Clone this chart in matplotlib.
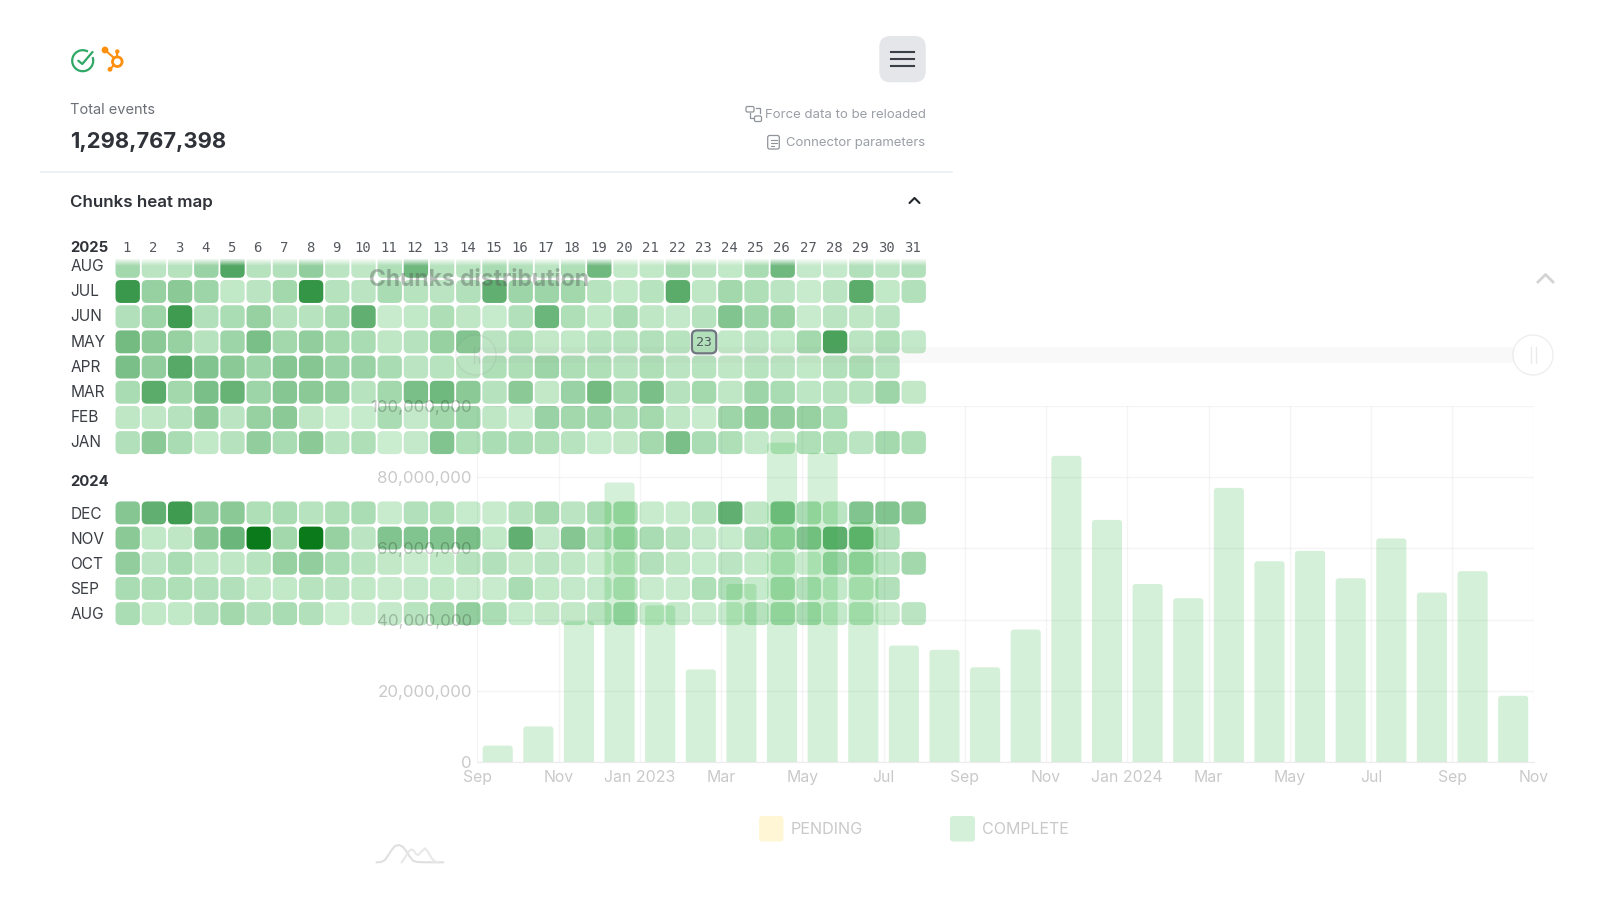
import matplotlib
matplotlib.use('Agg')
import matplotlib.pyplot as plt
import numpy as np
from matplotlib.colors import LinearSegmentedColormap
from matplotlib.patches import Arc, Circle, Ellipse, FancyBboxPatch, Rectangle
from matplotlib.ticker import FuncFormatter

plt.rcParams['font.family'] = ['Inter', 'DejaVu Sans']

# Heat map values, day 1 to 31 (rough level 0-100)
AUG_2025 = [28, 15, 18, 32, 68, 18, 20, 35, 15, 13, 22, 50, 18, 17, 25, 20, 15, 22, 50, 12, 12, 25, 15, 12, 25, 50, 10, 10, 20, 15, 20]
JUL_2025 = [80, 33, 38, 30, 12, 15, 28, 82, 18, 15, 25, 17, 15, 20, 58, 30, 30, 28, 17, 12, 17, 62, 13, 28, 22, 15, 8, 15, 62, 12, 20]
JUN_2025 = [20, 30, 78, 20, 24, 33, 18, 17, 25, 58, 8, 12, 23, 13, 9, 20, 52, 22, 12, 25, 13, 10, 18, 42, 30, 33, 8, 15, 13, 15]
MAY_2025 = [48, 38, 33, 18, 30, 45, 28, 35, 27, 25, 13, 18, 33, 42, 16, 22, 11, 12, 17, 17, 20, 17, 20, 12, 15, 12, 27, 72, 15, 22, 10]
APR_2025 = [45, 35, 65, 42, 38, 30, 40, 40, 32, 32, 25, 15, 17, 17, 22, 23, 30, 23, 22, 17, 22, 15, 17, 13, 17, 15, 12, 20, 24, 17]
MAR_2025 = [25, 62, 28, 45, 55, 30, 40, 38, 35, 17, 28, 45, 50, 38, 18, 38, 11, 32, 48, 27, 45, 18, 27, 13, 30, 25, 14, 18, 17, 30, 11]
FEB_2025 = [13, 13, 18, 38, 15, 33, 38, 13, 7, 9, 25, 10, 28, 30, 13, 8, 32, 28, 30, 23, 27, 13, 8, 30, 37, 35, 33, 24]
JAN_2025 = [20, 38, 25, 12, 18, 35, 25, 38, 17, 22, 7, 10, 42, 22, 24, 25, 22, 17, 9, 11, 27, 45, 25, 22, 10, 11, 22, 22, 15, 27, 22]
DEC_2024 = [40, 58, 78, 35, 38, 22, 25, 17, 22, 24, 8, 20, 22, 9, 8, 18, 28, 15, 25, 25, 8, 8, 17, 58, 13, 45, 25, 15, 42, 42, 38]
NOV_2024 = [38, 12, 13, 38, 52, 100, 28, 100, 33, 15, 42, 42, 42, 45, 12, 58, 10, 40, 22, 28, 25, 18, 10, 9, 25, 28, 42, 60, 55, 20]
OCT_2024 = [35, 15, 25, 13, 13, 17, 33, 35, 25, 17, 11, 8, 12, 18, 20, 11, 15, 13, 8, 13, 20, 13, 9, 15, 12, 15, 8, 30, 28, 17, 28]
SEP_2024 = [25, 22, 22, 20, 20, 12, 12, 17, 15, 12, 8, 10, 12, 8, 8, 25, 12, 10, 10, 15, 8, 8, 22, 22, 9, 25, 20, 10, 13, 20]
AUG_2024 = [24, 12, 12, 20, 28, 20, 25, 20, 7, 8, 10, 17, 28, 35, 24, 9, 11, 11, 17, 27, 8, 10, 8, 9, 18, 25, 25, 10, 15, 8, 15]

ROWS_2025 = [JAN_2025, FEB_2025, MAR_2025, APR_2025, MAY_2025, JUN_2025, JUL_2025, AUG_2025]
LABELS_2025 = ['JAN', 'FEB', 'MAR', 'APR', 'MAY', 'JUN', 'JUL', 'AUG']
ROWS_2024 = [AUG_2024, SEP_2024, OCT_2024, NOV_2024, DEC_2024]
LABELS_2024 = ['AUG', 'SEP', 'OCT', 'NOV', 'DEC']

# Chunks distribution, events per month, Sep 2022 to Oct 2024
BAR_VALUES = [4.6e6, 10e6, 39.5e6, 78.5e6, 44e6, 26e6, 50e6, 89.7e6, 86.8e6, 67.4e6, 32.7e6, 31.5e6, 26.6e6,
              37.2e6, 86e6, 68e6, 50e6, 46e6, 77e6, 56.4e6, 59.3e6, 51.6e6, 62.8e6, 47.6e6, 53.6e6, 18.6e6]
Y_TICKS = [0, 20e6, 40e6, 60e6, 80e6, 100e6]
X_LABELS = ['Sep', 'Nov', 'Jan 2023', 'Mar', 'May', 'Jul', 'Sep', 'Nov',
            'Jan 2024', 'Mar', 'May', 'Jul', 'Sep', 'Nov']

W, H = 1600, 900
INK = '#2f3238'
FAINT = (0, 0, 0, 0.21)
CELL_CMAP = LinearSegmentedColormap.from_list('cells', ['#d6f2da', '#a9dcb2', '#6fb87e', '#459f57', '#0a7a1a'], N=256)


def px_axes(fig, left, top, right, bottom, zorder):
    """Axes placed with pixel coordinates measured from the top left"""
    ax = fig.add_axes([left / W, 1 - bottom / H, (right - left) / W, (bottom - top) / H])
    ax.set_zorder(zorder)
    ax.patch.set_alpha(0)
    return ax


def round_box(ax, x, y, w, h, radius, aspect=1.0, **kw):
    box = FancyBboxPatch((x, y), w, h, boxstyle=f'round,pad=0,rounding_size={radius}',
                         mutation_aspect=aspect, **kw)
    ax.add_patch(box)
    return box


def draw_heat(ax, rows, highlight=None):
    """One block of the calendar: rows bottom to top, one column per day"""
    ax.set_xlim(0, 31)
    ax.set_ylim(0, len(rows))
    ax.axis('off')
    for r, row in enumerate(rows):
        for d, value in enumerate(row):
            round_box(ax, d + 0.02, r + 0.045, 0.93, 0.91, 0.2, facecolor=CELL_CMAP(value / 100), edgecolor='none')
    if highlight:
        r, d = highlight
        round_box(ax, d - 1 + 0.02, r + 0.045, 0.93, 0.91, 0.2, facecolor='none', edgecolor='#6f7680', linewidth=1.6)
        ax.text(d - 1 + 0.48, r + 0.49, str(d), ha='center', va='center', fontsize=9.5,
                family='DejaVu Sans Mono', color='#555a60')


fig = plt.figure(figsize=(16, 9), dpi=100, facecolor='white')

# Page layer in pixels, for everything that is not a chart
page = px_axes(fig, 0, 0, W, H, 0)
page.set_xlim(0, W)
page.set_ylim(H, 0)
page.axis('off')

page.plot([41, 952], [171.7, 171.7], color='#e8edf2', lw=1.1)

# status icon and hubspot icon
page.add_patch(Arc((82.7, 60.7), 21, 21, theta1=-20, theta2=300, color='#2fa866', lw=1.6))
page.plot([78.3, 82.3, 92.5], [60.7, 64, 52], color='#2fa866', lw=1.6, solid_capstyle='round')
ORANGE = '#ff8f0f'
page.add_patch(Circle((117.3, 61.7), 4.8, facecolor='none', edgecolor=ORANGE, lw=2))
page.plot([105, 113.5], [50, 57.5], color=ORANGE, lw=1.5)
page.plot([117.3, 117.3], [51.5, 56.5], color=ORANGE, lw=1.5)
page.plot([110, 114], [69.3, 65], color=ORANGE, lw=1.5)
page.scatter([105, 117.3, 110], [50, 51.5, 69.3], s=[24, 10, 12], color=ORANGE, linewidths=0)

# menu button
round_box(page, 879.3, 36, 46.4, 46.3, 11, facecolor='#e4e6ea', edgecolor='none')
for yy in [52.3, 59, 66]:
    page.plot([891, 914], [yy, yy], color='#3a3f47', lw=1.5)

page.text(70.5, 110.5, 'Total events', fontsize=10.5, color='#6b6f76', va='center')
page.text(70, 141.5, '1,298,767,398', fontsize=15.85, color=INK, va='center', fontweight='bold')
page.text(70.5, 202, 'Chunks heat map', fontsize=12.2, color=INK, va='center', fontweight='semibold')
page.plot([909.5, 914.5, 919.5], [203, 198, 203], color='#22252a', lw=1.5, solid_capstyle='round')

page.text(925.5, 115, 'Force data to be reloaded', fontsize=9.5, color='#9a9ea5', va='center', ha='right')
page.text(925.5, 143, 'Connector parameters', fontsize=9.45, color='#9a9ea5', va='center', ha='right')
# small icons next to the links
round_box(page, 746, 106.5, 8, 5.5, 1.5, facecolor='none', edgecolor='#8f9399', lw=0.9)
round_box(page, 754.5, 116, 7, 5.5, 1.5, facecolor='none', edgecolor='#8f9399', lw=0.9)
page.plot([749.5, 749.5, 753], [113, 118, 118], color='#8f9399', lw=0.9)
page.plot([756, 759.5, 759.5], [107.5, 107.5, 113], color='#8f9399', lw=0.9)
round_box(page, 767.7, 135.5, 11.6, 13.5, 2, facecolor='none', edgecolor='#8f9399', lw=0.9)
for yy, xe in [(139.5, 776.5), (142.5, 776.5), (145.5, 773.5)]:
    page.plot([770.5, xe], [yy, yy], color='#8f9399', lw=0.8)

# day and month labels
page.text(70.5, 248, '2025', fontsize=10.7, color=INK, va='center', fontweight='bold')
page.text(70.5, 482, '2024', fontsize=10.7, color=INK, va='center', fontweight='bold')
for d in range(1, 32):
    page.text(115 + (d - 1) * 26.2 + 11.7, 247.5, str(d), fontsize=10, ha='center', va='center',
              family='DejaVu Sans Mono', color='#55595f')
row_tops_2025 = 279.3 + 25.17 * np.arange(-1, 7)
for i, lab in enumerate(reversed(LABELS_2025)):
    page.text(70.5, row_tops_2025[i] + 12.5, lab, fontsize=11.1, color='#3b3e44', va='center')
for i, lab in enumerate(reversed(LABELS_2024)):
    page.text(70.5, 501.3 + 25.17 * i + 13, lab, fontsize=11.1, color='#3b3e44', va='center')

# Calendar blocks
heat_2025 = px_axes(fig, 115, 259, 115 + 31 * 26.2, 455.2, 1)
draw_heat(heat_2025, ROWS_2025, highlight=(4, 23))
heat_2025.set_ylim(0, 7.79)

heat_2024 = px_axes(fig, 115, 500.3, 115 + 31 * 26.2, 626.2, 1)
draw_heat(heat_2024, ROWS_2024)

# fade of the scrolled row under the day header
fade = px_axes(fig, 110, 258, 930, 266, 2)
fade.imshow(np.dstack([np.ones((32, 2, 3)), np.linspace(1, 0, 32).reshape(32, 1).repeat(2, axis=1)]),
            aspect='auto', extent=(0, 1, 0, 1))
fade.axis('off')

# Bars chart, fading over the calendar
chart = px_axes(fig, 477.4, 406, 1533.5, 762, 3)
chart.set_xlim(0, 2 * (len(X_LABELS) - 1))
chart.set_ylim(0, 100e6)
months_per_px = chart.get_xlim()[1] / (1533.5 - 477.4)
units_per_px = 100e6 / 356
for i, value in enumerate(BAR_VALUES):
    round_box(chart, i + 0.13, -3e6, 0.74, value + 3e6, 3 * months_per_px,
              aspect=units_per_px / months_per_px, facecolor=(45 / 255, 180 / 255, 60 / 255, 0.2), edgecolor='none')
chart.set_xticks(range(0, 2 * len(X_LABELS), 2))
chart.set_xticklabels(X_LABELS)
chart.set_yticks(Y_TICKS)
chart.yaxis.set_major_formatter(FuncFormatter(lambda v, _: f'{int(v):,}'))
chart.tick_params(axis='x', length=0, labelsize=11.4, labelcolor=FAINT, pad=6)
chart.tick_params(axis='y', length=0, labelsize=12.2, labelcolor=FAINT, pad=4)
chart.grid(True, color='#404059', alpha=0.055, lw=0.9)
chart.set_axisbelow(True)
for name, spine in chart.spines.items():
    spine.set_visible(name == 'bottom')
chart.spines['bottom'].set_color('#ececee')

# Rest of the faded panel, on a top layer
over = px_axes(fig, 0, 0, W, H, 4)
over.set_xlim(0, W)
over.set_ylim(H, 0)
over.axis('off')
over.text(479, 280.5, 'Chunks distribution', fontsize=16.5, fontweight='bold', color='#55605a', alpha=0.42,
          ha='center', va='center')
over.plot([1538, 1545.5, 1553], [282, 274.5, 282], color='#d4d4d6', lw=2)
over.add_patch(Rectangle((476, 347), 1057, 16, facecolor='#8a8a8a', alpha=0.05, edgecolor='none'))
for cx in [476, 1533]:
    over.add_patch(Ellipse((cx, 355), 40, 40, facecolor=(1, 1, 1, 0.05 if cx < 1000 else 1),
                           edgecolor=(0.5, 0.5, 0.5, 0.13), lw=1))
    for dx in [-2.5, 2.5]:
        over.plot([cx + dx, cx + dx], [347, 363], color=(0.5, 0.5, 0.5, 0.16), lw=1)

round_box(over, 759, 816, 24.5, 25.5, 3, facecolor='#fff6d6', edgecolor='none')
over.text(791, 829, 'PENDING', fontsize=11.7, color=FAINT, va='center')
round_box(over, 950, 816, 25, 25.5, 3, facecolor='#d5f0d8', edgecolor='none')
over.text(982, 829, 'COMPLETE', fontsize=11.5, color=FAINT, va='center')

# little grey sparkline mark
over.plot([376.7, 381, 385, 388, 391.7, 395, 399.3, 403, 406.7, 410, 413, 417, 425, 443],
          [862.3, 862, 860, 855.5, 850, 846, 845, 847, 851.7, 857, 860.7, 862, 862.3, 862.3],
          color='#e0e0e0', lw=1.5, solid_joinstyle='round')
over.plot([401.7, 404, 406.7, 409, 411.7, 414, 416, 418.3, 421, 425, 428, 431.7, 435, 438.3],
          [862.3, 859, 855, 851, 849.3, 851, 854, 855, 852, 848.3, 852, 858.3, 861.5, 862.3],
          color='#e8e8e8', lw=1.5, solid_joinstyle='round')

fig.savefig('out.png', dpi=100, facecolor='white')
plt.close(fig)
